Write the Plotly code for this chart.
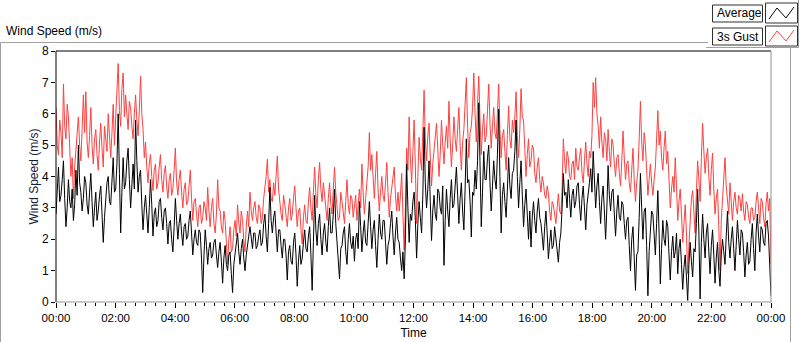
import plotly.graph_objects as go
import pandas as pd

# 2.5-minute samples over 24 h (24 values per hour)
gust = [
    6.2, 5.0, 4.7, 5.8, 5.4, 4.6, 6.95, 5.6, 5.2, 6.3, 5.9, 4.9, 4.0, 4.6, 3.3, 4.3, 4.8, 5.3, 5.9, 5.0, 4.5, 5.5, 6.6, 5.4,
    6.7, 5.1, 4.6, 5.3, 6.2, 5.0, 4.4, 5.2, 5.5, 4.7, 4.2, 5.1, 5.7, 4.9, 4.3, 5.6, 5.2, 4.8, 6.0, 5.3, 4.6, 5.4, 6.3, 5.0,
    5.8, 6.5, 7.6, 6.1, 5.6, 6.8, 7.3, 5.9, 6.6, 6.0, 5.5, 6.4, 6.2, 5.6, 5.2, 6.0, 6.6, 5.8, 5.3, 6.1, 7.2, 6.0, 5.5, 4.6,
    5.1, 4.3, 3.8, 4.4, 4.7, 4.0, 3.55, 4.2, 4.4, 3.6, 3.8, 4.3, 4.7, 3.9, 3.5, 4.1, 4.35, 3.7, 3.3, 3.9, 4.1, 3.4, 3.6, 4.2,
    4.9, 3.8, 3.4, 3.9, 4.2, 3.5, 3.0, 3.6, 3.8, 3.1, 3.2, 3.7, 4.2, 3.3, 2.6, 3.2, 3.3, 2.8, 2.4, 3.0, 3.1, 2.5, 2.7, 3.2,
    3.0, 2.6, 3.65, 2.9, 2.4, 3.0, 3.3, 2.5, 2.2, 2.8, 3.9, 3.0, 2.9, 2.4, 2.2, 2.9, 2.6, 1.9, 1.2, 2.0, 2.4, 1.6, 1.7, 2.3,
    2.6, 2.1, 3.1, 2.5, 2.2, 2.9, 2.6, 2.0, 1.6, 2.4, 2.9, 2.4, 3.5, 2.9, 2.6, 3.0, 3.2, 2.7, 2.5, 3.1, 3.0, 2.5, 2.7, 3.3,
    3.6, 4.0, 4.55, 3.5, 3.9, 3.3, 3.2, 3.8, 3.4, 4.0, 4.65, 3.6, 3.1, 2.8, 2.6, 3.4, 3.1, 2.7, 2.4, 3.0, 3.3, 2.6, 2.8, 3.3,
    3.7, 3.0, 2.4, 2.9, 3.0, 2.3, 1.85, 2.7, 3.1, 2.6, 2.5, 3.2, 3.65, 3.0, 2.6, 3.5, 4.3, 3.4, 3.0, 3.9, 4.45, 3.6, 3.2, 3.8,
    3.4, 2.9, 2.6, 3.3, 3.8, 3.1, 2.8, 3.6, 4.3, 3.5, 3.0, 2.6, 2.7, 3.5, 3.2, 2.8, 2.5, 3.2, 3.9, 3.1, 2.8, 3.4, 3.3, 2.7,
    3.0, 3.4, 2.6, 3.1, 3.6, 3.0, 4.4, 3.5, 2.8, 3.3, 3.7, 4.3, 5.4, 4.2, 4.7, 3.8, 3.3, 4.1, 4.8, 3.6, 2.9, 3.5, 4.0, 3.4,
    3.2, 3.8, 4.45, 3.5, 2.7, 3.3, 3.6, 4.0, 4.3, 3.4, 2.9, 3.5, 2.9, 3.4, 4.1, 2.8, 1.65, 3.0, 4.9, 4.2, 5.9, 4.6, 3.8, 4.8,
    5.8, 4.3, 2.5, 4.0, 5.25, 4.6, 4.2, 5.4, 6.75, 5.2, 4.5, 5.3, 5.7, 4.6, 3.7, 4.4, 4.8, 5.2, 5.7, 4.9, 4.0, 4.7, 5.8, 5.0,
    4.4, 5.1, 5.6, 4.9, 6.4, 5.2, 4.3, 5.0, 5.9, 5.2, 4.8, 5.5, 6.2, 5.0, 4.2, 5.1, 5.5, 6.3, 7.15, 5.6, 4.6, 5.4, 5.6, 6.2,
    7.3, 6.0, 5.1, 6.3, 7.2, 5.8, 4.7, 5.5, 6.0, 5.1, 5.3, 6.1, 6.95, 5.7, 4.9, 5.6, 6.2, 5.4, 5.2, 6.0, 6.95, 5.5, 4.6, 5.3,
    5.5, 4.8, 4.2, 5.3, 6.25, 5.2, 4.9, 5.8, 5.4, 5.9, 6.7, 5.3, 4.6, 5.5, 6.8, 5.9, 5.8, 4.9, 4.0, 4.7, 5.2, 4.3, 4.5, 5.0,
    4.9, 4.1, 3.8, 4.3, 4.6, 3.9, 3.5, 4.0, 3.8, 3.4, 3.3, 3.7, 3.45, 2.9, 2.6, 3.2, 3.1, 2.8, 2.5, 3.0, 3.45, 2.9, 2.8, 3.6,
    5.2, 4.5, 4.1, 4.8, 4.6, 4.0, 3.9, 4.4, 4.5, 3.9, 4.9, 4.3, 4.2, 4.6, 4.9, 4.1, 3.8, 4.5, 5.1, 4.4, 4.0, 4.8, 4.6, 5.3,
    7.0, 6.2, 7.15, 6.0, 5.6, 4.9, 5.9, 5.1, 4.6, 5.4, 5.2, 4.5, 5.5, 4.8, 4.3, 5.2, 5.0, 4.4, 4.0, 4.6, 4.7, 4.1, 3.7, 4.5,
    5.45, 4.6, 3.9, 4.4, 4.5, 3.8, 3.5, 4.2, 4.9, 3.9, 3.2, 3.8, 4.2, 5.2, 6.4, 5.1, 4.5, 5.4, 5.0, 4.2, 3.4, 3.9, 4.4, 3.8,
    3.4, 3.9, 4.3, 5.2, 6.1, 5.0, 5.45, 4.6, 4.2, 4.9, 5.45, 4.4, 4.8, 3.9, 3.0, 3.6, 4.0, 3.5, 4.6, 3.7, 2.6, 3.2, 3.6, 2.8,
    1.9, 2.5, 3.1, 2.2, 0.9, 1.8, 2.8, 3.3, 3.55, 2.9, 2.2, 3.5, 4.5, 3.9, 3.2, 4.6, 5.7, 4.8, 4.1, 4.6, 4.9, 4.0, 3.4, 4.2,
    4.75, 3.6, 2.8, 3.3, 3.6, 2.4, 1.0, 2.6, 3.4, 3.9, 4.6, 3.7, 3.2, 2.8, 3.8, 3.1, 2.6, 3.2, 3.5, 3.0, 2.8, 3.4, 3.3, 2.9,
    3.45, 2.9, 2.6, 3.2, 3.1, 2.7, 2.5, 3.0, 3.0, 2.6, 2.7, 3.2, 3.5, 3.0, 2.5, 3.3, 3.2, 2.7, 2.4, 3.1, 3.5, 2.9, 3.3, 1.2,
]

average = [
    2.8, 3.6, 4.3, 3.2, 3.4, 3.9, 4.5, 3.3, 2.4, 3.0, 3.9, 3.2, 3.0, 3.6, 2.6, 3.1, 4.2, 3.4, 5.0, 3.8, 3.5, 2.9, 3.3, 4.0,
    3.8, 3.1, 2.8, 3.5, 4.1, 3.2, 2.4, 3.0, 3.5, 2.6, 2.9, 3.4, 3.7, 2.8, 1.9, 2.7, 3.3, 3.8, 4.0, 3.2, 3.1, 3.7, 4.6, 3.5,
    3.6, 4.4, 6.0, 4.1, 2.2, 3.5, 4.6, 3.6, 3.8, 4.5, 4.9, 3.9, 3.0, 3.7, 4.4, 3.6, 5.8, 4.5, 3.5, 4.0, 4.2, 3.1, 2.3, 3.0,
    3.4, 2.8, 2.2, 3.0, 3.9, 3.1, 2.1, 2.8, 3.0, 2.4, 2.6, 3.2, 3.3, 2.7, 2.3, 2.9, 3.0, 2.5, 1.85, 2.5, 2.6, 2.0, 1.6, 2.4,
    3.3, 2.6, 2.0, 2.5, 2.8, 2.2, 1.8, 2.4, 2.5, 2.0, 2.1, 2.6, 2.9, 2.2, 1.5, 2.0, 2.3, 1.9, 1.8, 2.3, 2.2, 1.4, 0.3, 1.5,
    2.3, 1.8, 1.2, 1.7, 1.9, 1.4, 1.5, 1.9, 2.0, 1.5, 1.1, 1.6, 1.9, 1.3, 0.6, 1.4, 1.8, 1.2, 1.0, 1.5, 1.6, 0.9, 0.3, 1.2,
    1.5, 1.9, 2.2, 1.6, 1.2, 1.7, 2.0, 1.4, 1.0, 1.5, 1.9, 2.1, 2.4, 1.9, 1.7, 2.2, 2.2, 1.7, 1.8, 2.1, 2.3, 1.8, 1.9, 2.5,
    2.8, 2.1, 1.6, 2.5, 3.65, 2.6, 2.2, 2.7, 2.9, 2.2, 1.6, 2.3, 2.3, 1.8, 1.4, 2.0, 2.0, 1.5, 0.7, 1.6, 1.8, 1.3, 1.2, 1.9,
    2.2, 1.5, 0.5, 1.3, 1.8, 1.2, 1.4, 1.9, 2.3, 1.7, 1.6, 2.1, 2.4, 1.5, 0.37, 1.9, 3.4, 2.3, 1.8, 2.5, 2.8, 2.0, 1.5, 2.2,
    2.5, 1.9, 1.6, 2.4, 3.0, 2.2, 2.2, 2.8, 3.6, 2.5, 2.0, 1.4, 0.74, 1.7, 1.8, 2.2, 2.4, 1.6, 1.2, 2.0, 2.5, 1.9, 1.7, 2.1,
    1.3, 2.0, 2.2, 1.7, 3.2, 2.4, 1.6, 2.2, 2.6, 1.9, 1.8, 2.5, 3.2, 2.4, 1.7, 2.3, 2.6, 1.8, 1.1, 2.0, 2.8, 2.2, 2.0, 2.6,
    2.6, 1.9, 1.2, 1.8, 2.0, 2.5, 2.9, 2.1, 1.5, 2.2, 2.7, 2.0, 1.9, 1.4, 1.0, 1.6, 0.74, 2.0, 4.4, 3.0, 1.9, 2.8, 2.6, 3.2,
    3.5, 2.6, 1.4, 2.5, 3.2, 2.7, 2.2, 3.4, 5.57, 3.8, 3.0, 3.6, 4.5, 3.2, 1.96, 2.9, 3.4, 2.8, 2.6, 3.6, 3.5, 3.0, 2.8, 3.7,
    1.17, 2.6, 3.6, 2.9, 2.4, 3.3, 3.9, 3.0, 3.1, 3.7, 4.3, 3.4, 2.5, 3.3, 3.8, 2.9, 2.3, 3.6, 5.2, 3.8, 3.9, 3.2, 2.07, 3.5,
    3.4, 4.2, 3.6, 4.5, 6.35, 4.4, 2.4, 3.5, 4.8, 3.9, 3.9, 4.6, 5.0, 3.8, 2.9, 3.7, 4.5, 3.9, 3.6, 4.7, 6.15, 4.0, 2.2, 3.4,
    3.8, 3.2, 2.7, 3.6, 4.6, 3.7, 3.3, 4.1, 4.2, 4.8, 5.8, 4.0, 3.0, 3.8, 4.5, 3.4, 2.4, 3.1, 3.6, 2.8, 2.0, 2.9, 1.75, 2.7,
    3.2, 2.6, 2.2, 2.9, 3.3, 2.7, 2.5, 2.1, 1.65, 2.4, 2.9, 2.2, 1.38, 1.9, 2.3, 1.7, 1.8, 2.4, 2.0, 1.6, 1.27, 1.9, 2.2, 3.0,
    4.1, 3.4, 3.5, 3.0, 3.9, 3.3, 2.7, 3.4, 3.6, 3.0, 3.2, 3.7, 3.8, 3.1, 2.6, 3.3, 3.7, 3.0, 2.3, 3.1, 3.4, 3.8, 4.25, 3.5,
    4.8, 3.9, 3.0, 3.7, 4.1, 3.2, 2.5, 3.3, 3.7, 2.9, 2.0, 3.0, 4.35, 3.4, 2.9, 3.5, 3.6, 2.8, 2.1, 2.9, 3.4, 2.7, 2.6, 3.2,
    3.1, 2.5, 2.0, 2.6, 2.7, 1.8, 1.0, 2.0, 2.4, 1.4, 0.37, 1.5, 1.6, 2.7, 4.1, 3.0, 2.0, 2.9, 3.0, 1.8, 0.2, 1.6, 2.3, 2.9,
    2.8, 2.0, 1.5, 2.5, 3.55, 2.2, 0.58, 1.7, 2.6, 2.0, 1.8, 2.6, 2.4, 1.5, 0.7, 1.6, 2.1, 1.4, 1.6, 2.2, 0.9, 1.7, 2.0, 1.2,
    0.4, 1.1, 1.5, 0.8, 0.05, 1.2, 1.9, 1.3, 0.8, 1.7, 1.6, 2.5, 3.6, 2.2, 0.1, 1.9, 2.8, 2.0, 1.4, 2.2, 2.5, 1.6, 0.9, 1.8,
    2.3, 1.5, 0.6, 1.4, 1.9, 1.0, 0.5, 1.5, 2.0, 1.6, 1.2, 2.1, 2.9, 1.9, 1.4, 2.0, 2.4, 1.7, 1.0, 1.8, 2.6, 2.0, 1.5, 2.3,
    2.2, 1.6, 0.8, 1.5, 1.9, 1.2, 1.3, 2.0, 2.5, 1.7, 1.0, 2.2, 2.8, 2.1, 1.6, 2.4, 2.3, 1.9, 1.8, 2.5, 2.6, 2.1, 1.1, 0.2,
]

start_time = "2020-01-01 00:00"
end_time = "2020-01-02 00:00"
y_ticks = [0, 1, 2, 3, 4, 5, 6, 7, 8]

times_g = pd.date_range(start_time, end_time, periods=len(gust))
times_a = pd.date_range(start_time, end_time, periods=len(average))

FONT = "Liberation Sans"
W, H = 800, 342
L, R, T, B = 56, 771, 51, 302  # plot area in pixels


def px(x):
    return (x - L) / (R - L)


def py(y):
    return (B - y) / (B - T)


fig = go.Figure()
fig.add_trace(go.Scatter(x=times_g, y=gust, mode="lines", name="3s Gust",
                         line=dict(color="#ff4040", width=1)))
fig.add_trace(go.Scatter(x=times_a, y=average, mode="lines", name="Average",
                         line=dict(color="#000000", width=1)))

shapes = []
# plot frame: dark top/left, grey right/bottom
shapes.append(dict(type="line", xref="paper", yref="paper", x0=px(L), x1=px(R), y0=py(T), y1=py(T),
                   line=dict(color="#000000", width=1)))
shapes.append(dict(type="line", xref="paper", yref="paper", x0=px(L), x1=px(L), y0=py(T), y1=py(B),
                   line=dict(color="#000000", width=1)))
shapes.append(dict(type="line", xref="paper", yref="paper", x0=px(R), x1=px(R), y0=py(T), y1=py(B),
                   line=dict(color="#909090", width=1)))
shapes.append(dict(type="line", xref="paper", yref="paper", x0=px(L), x1=px(R), y0=py(B), y1=py(B),
                   line=dict(color="#909090", width=1)))
# outer panel frame
shapes.append(dict(type="line", xref="paper", yref="paper", x0=px(0.5), x1=px(708), y0=py(42.5), y1=py(42.5),
                   line=dict(color="#a0a0a0", width=1)))
shapes.append(dict(type="line", xref="paper", yref="paper", x0=px(0.5), x1=px(0.5), y0=py(42.5), y1=py(342),
                   line=dict(color="#a0a0a0", width=1)))
shapes.append(dict(type="line", xref="paper", yref="paper", x0=px(790.5), x1=px(790.5), y0=py(48), y1=py(342),
                   line=dict(color="#a0a0a0", width=1)))
# legend panel edges
shapes.append(dict(type="line", xref="paper", yref="paper", x0=px(706), x1=px(798.5), y0=py(47.5), y1=py(47.5),
                   line=dict(color="#a0a0a0", width=1)))
shapes.append(dict(type="line", xref="paper", yref="paper", x0=px(798.5), x1=px(798.5), y0=py(0), y1=py(47.5),
                   line=dict(color="#a0a0a0", width=1)))

# legend boxes
legend_rows = [("Average", "#000000", 4), ("3s Gust", "#ff4040", 27)]
annotations = []
for label, color, top in legend_rows:
    shapes.append(dict(type="rect", xref="paper", yref="paper",
                       x0=px(712.5), x1=px(762.5), y0=py(top + 1), y1=py(top + 18),
                       line=dict(color="#303030", width=1), fillcolor="white"))
    shapes.append(dict(type="rect", xref="paper", yref="paper",
                       x0=px(765.5), x1=px(797.5), y0=py(top - 1), y1=py(top + 19),
                       line=dict(color="#303030", width=1), fillcolor="white"))
    pts = [(769, top + 15), (777, top + 4), (786, top + 14), (794, top + 3)]
    path = "M " + " L ".join(f"{px(a)},{py(b)}" for a, b in pts)
    shapes.append(dict(type="path", xref="paper", yref="paper", path=path,
                       line=dict(color=color, width=1)))
    annotations.append(dict(text=label, xref="paper", yref="paper", x=px(714.5), y=py(top + 9.5),
                            xanchor="left", yanchor="middle", showarrow=False,
                            font=dict(family=FONT, size=12, color="#000000")))

annotations.append(dict(text="Wind Speed (m/s)", xref="paper", yref="paper", x=px(4), y=py(31),
                        xanchor="left", yanchor="middle", showarrow=False,
                        font=dict(family=FONT, size=12, color="#000000")))

fig.update_layout(
    width=W, height=H,
    margin=dict(l=L, r=W - R, t=T, b=H - B, pad=0, autoexpand=False),
    paper_bgcolor="white", plot_bgcolor="white",
    showlegend=False,
    shapes=shapes,
    annotations=annotations,
    font=dict(family=FONT, size=12, color="#000000"),
)
fig.update_xaxes(
    type="date",
    automargin=False,
    range=[start_time, end_time],
    dtick=2 * 3600 * 1000,
    tick0=start_time,
    tickformat="%H:%M",
    ticks="outside", ticklen=5, tickcolor="#000000", tickwidth=1,
    minor=dict(dtick=20 * 60 * 1000, ticks="outside", ticklen=3, tickcolor="#000000", showgrid=False),
    showgrid=False, zeroline=False, showline=False,
    tickfont=dict(family=FONT, size=11.5, color="#000000"),
    title=dict(text="Time", standoff=5, font=dict(family=FONT, size=12, color="#000000")),
)
fig.update_yaxes(
    automargin=False,
    range=[0, 8],
    tickvals=y_ticks,
    ticks="outside", ticklen=4, tickcolor="#000000", tickwidth=1,
    showgrid=False, zeroline=False, showline=False,
    tickfont=dict(family=FONT, size=12, color="#000000"),
    title=dict(text="Wind Speed (m/s)", standoff=0, font=dict(family=FONT, size=12, color="#1a1a3a")),
)

fig.write_html("out.html", config={"displayModeBar": False},
               post_script="document.body.style.margin='0';document.body.style.padding='0';")
